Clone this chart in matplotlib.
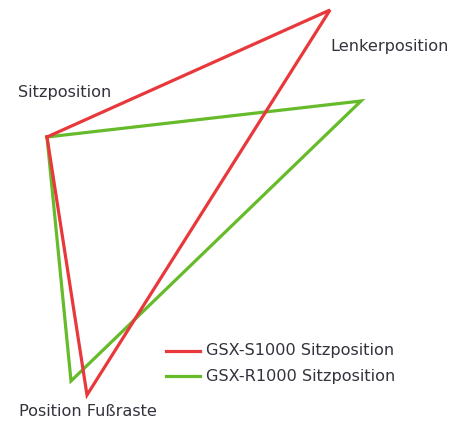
import matplotlib
matplotlib.use("Agg")
import matplotlib.pyplot as plt

# Schematic coordinates (image-like units, y downward)
points = ["Sitzposition", "Lenkerposition", "Position Fußraste"]
red_x = [47, 330, 87]
red_y = [137, 10, 395]
green_x = [47, 361, 71]
green_y = [137, 101, 381]
series_names = ["GSX-S1000 Sitzposition", "GSX-R1000 Sitzposition"]
colors = ["#e8383b", "#66bb2a"]

fig = plt.figure(figsize=(4.62, 4.23), dpi=100)
ax = fig.add_axes([0, 0, 1, 1])
ax.set_xlim(0, 462)
ax.set_ylim(423, 0)
ax.axis("off")

ax.plot(green_x + green_x[:1], green_y + green_y[:1], color=colors[1], lw=2.3,
        solid_joinstyle="miter", label=series_names[1], zorder=2)
ax.plot(red_x + red_x[:1], red_y + red_y[:1], color=colors[0], lw=2.3,
        solid_joinstyle="miter", label=series_names[0], zorder=3)

tc = "#33333d"
fs = 11.6
ax.text(18, 92, points[0], fontsize=fs, color=tc, va="center", ha="left")
ax.text(330, 46, points[1], fontsize=fs, color=tc, va="center", ha="left")
ax.text(19, 411, points[2], fontsize=fs, color=tc, va="center", ha="left")

# Legend
ax.plot([166, 200], [351, 351], color=colors[0], lw=2.3)
ax.plot([166, 200], [376, 376], color=colors[1], lw=2.3)
ax.text(206, 351, series_names[0], fontsize=fs, color=tc, va="center", ha="left")
ax.text(206, 376, series_names[1], fontsize=fs, color=tc, va="center", ha="left")

fig.savefig("out.png", dpi=100, facecolor="white")
